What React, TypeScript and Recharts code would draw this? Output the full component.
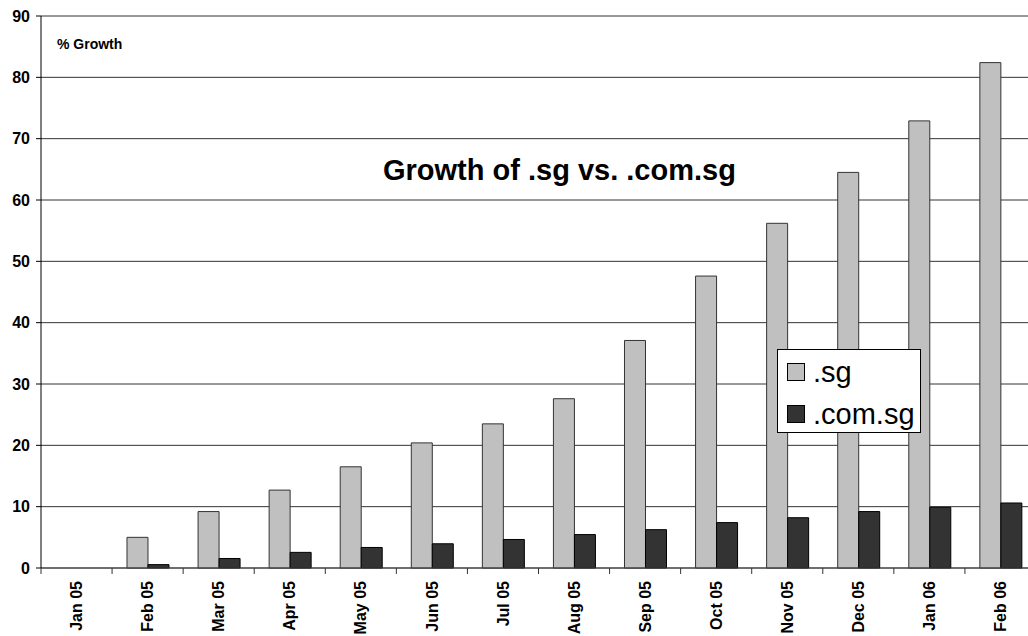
import { BarChart, Bar, XAxis, YAxis, CartesianGrid, Legend } from 'recharts'

const months = [
  'Jan 05', 'Feb 05', 'Mar 05', 'Apr 05', 'May 05', 'Jun 05', 'Jul 05',
  'Aug 05', 'Sep 05', 'Oct 05', 'Nov 05', 'Dec 05', 'Jan 06', 'Feb 06',
]
const sgGrowth = [0, 5.0, 9.2, 12.7, 16.5, 20.4, 23.5, 27.6, 37.1, 47.6, 56.2, 64.5, 72.9, 82.4]
const comSgGrowth = [0, 0.55, 1.55, 2.55, 3.35, 3.95, 4.65, 5.45, 6.25, 7.4, 8.2, 9.2, 9.9, 10.6]
const yTicks = [0, 10, 20, 30, 40, 50, 60, 70, 80, 90]

const data = months.map((month, i) => ({ month, sg: sgGrowth[i], comsg: comSgGrowth[i] }))

const FONT = 'Arial, "Liberation Sans", sans-serif'

function MonthTick(props: any) {
  const { x, y, payload } = props
  const half = payload?.offset ?? 995 / 14 / 2
  return (
    <g>
      <line x1={x - half} y1={y - 13} x2={x - half} y2={y - 7} stroke="#333" />
      <text
        transform={`translate(${x},${y}) rotate(-90)`}
        textAnchor="end"
        dy="0.35em"
        fontFamily={FONT}
        fontWeight="bold"
        fontSize={16}
        fill="#000"
      >
        {payload.value}
      </text>
    </g>
  )
}

function LegendBox(props: any) {
  const items = [...(props.payload || [])].sort((a: any, b: any) =>
    a.dataKey === 'sg' ? -1 : b.dataKey === 'sg' ? 1 : 0
  )
  return (
    <div
      style={{
        width: 142,
        height: 82,
        border: '1px solid #000',
        background: '#fff',
        fontFamily: FONT,
        fontSize: 29,
        boxSizing: 'content-box',
      }}
    >
      {items.map((item: any, i: number) => (
        <div key={i} style={{ display: 'flex', alignItems: 'center', height: 42, paddingLeft: 9, marginTop: i === 0 ? 1 : 0 }}>
          <span
            style={{
              display: 'inline-block',
              width: 16,
              height: 16,
              background: item.color,
              border: '1px solid #000',
              marginRight: 8,
            }}
          />
          <span style={{ lineHeight: 1 }}>{item.value}</span>
        </div>
      ))}
    </div>
  )
}

export default function App() {
  return (
    <div style={{ position: 'absolute', left: 0, top: 0, width: 1028, height: 636, overflow: 'hidden', background: '#fff' }}>
      <BarChart
        width={1040}
        height={636}
        data={data}
        margin={{ top: 16, right: 4, bottom: 0, left: 0 }}
        barCategoryGap="21%"
        barGap={0}
      >
        <CartesianGrid vertical={false} stroke="#333" />
        <XAxis
          dataKey="month"
          interval={0}
          height={68}
          tickSize={6}
          tickMargin={7}
          tickLine={false}
          axisLine={{ stroke: '#444' }}
          tick={<MonthTick />}
        />
        <YAxis
          width={41}
          domain={[0, 90]}
          ticks={yTicks}
          interval={0}
          tickSize={5}
          tickMargin={6}
          axisLine={{ stroke: '#000' }}
          tickLine={{ stroke: '#000' }}
          tick={{ fontFamily: FONT, fontWeight: 'bold', fontSize: 16, fill: '#000' }}
        />
        <Legend
          layout="vertical"
          align="center"
          verticalAlign="middle"
          content={<LegendBox />}
          wrapperStyle={{ position: 'absolute', left: 777, top: 349, width: 144 }}
        />
        <Bar dataKey="sg" name=".sg" fill="#C0C0C0" stroke="#333" strokeWidth={1} isAnimationActive={false} />
        <Bar dataKey="comsg" name=".com.sg" fill="#333333" stroke="#000" strokeWidth={1} isAnimationActive={false} />
      </BarChart>
      <div style={{ position: 'absolute', left: 57, top: 36, fontFamily: FONT, fontWeight: 'bold', fontSize: 14 }}>% Growth</div>
      <div style={{ position: 'absolute', left: 383, top: 154, fontFamily: FONT, fontWeight: 'bold', fontSize: 29, whiteSpace: 'nowrap' }}>
        Growth of .sg vs. .com.sg
      </div>
    </div>
  )
}
